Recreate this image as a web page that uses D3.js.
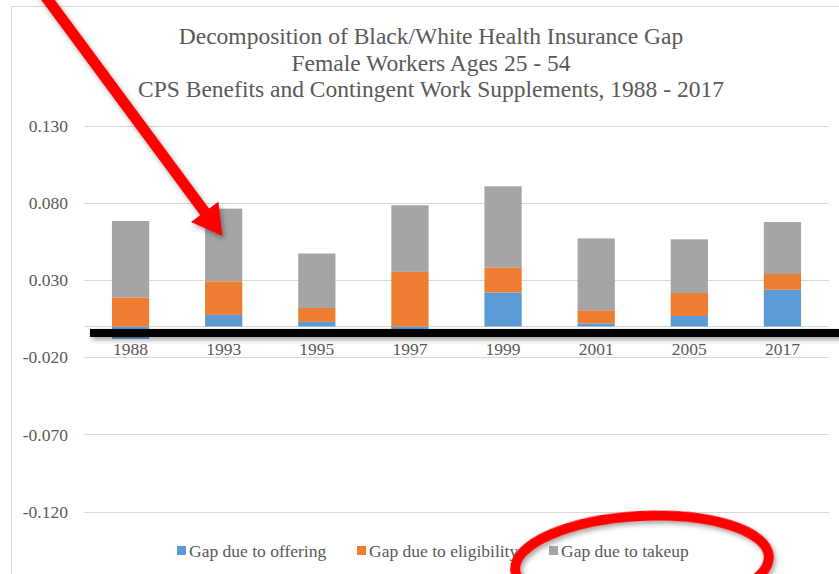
<!DOCTYPE html>
<html>
<head>
<meta charset="utf-8">
<script src="https://cdn.jsdelivr.net/npm/d3@7"></script>
<style>
  html, body { margin: 0; padding: 0; background: #fff; }
  svg { display: block; }
</style>
</head>
<body>
<svg id="chart" width="839" height="574"></svg>
<script>
// Survey years
const years = ["1988", "1993", "1995", "1997", "1999", "2001", "2005", "2017"];
// Components of the Black/White insurance gap
const offering    = [-0.008, 0.0075, 0.003, -0.002, 0.022, 0.002, 0.0068, 0.0238];
const eligibility = [0.0188, 0.0218, 0.009, 0.0354, 0.0163, 0.0085, 0.0149, 0.0102];
const takeup      = [0.0496, 0.0471, 0.0353, 0.0432, 0.0526, 0.0466, 0.0348, 0.0337];
const seriesNames = ["Gap due to offering", "Gap due to eligibility", "Gap due to takeup"];
const seriesColors = ["#5B9BD5", "#ED7D31", "#A5A5A5"];
const yTicks = [-0.12, -0.07, -0.02, 0.03, 0.08, 0.13];
const titleLines = [
  "Decomposition of Black/White Health Insurance Gap",
  "Female Workers Ages 25 - 54",
  "CPS Benefits and Contingent Work Supplements, 1988 - 2017"
];

const FONT = "'Liberation Serif', 'DejaVu Serif', serif";
const TEXT = "#595959";

const svg = d3.select("#chart");
const defs = svg.append("defs");
const shadow = defs.append("filter").attr("id", "shadow")
  .attr("filterUnits", "userSpaceOnUse")
  .attr("x", -50).attr("y", -50).attr("width", 950).attr("height", 700);
shadow.append("feDropShadow").attr("dx", 2).attr("dy", 3).attr("stdDeviation", 2.5)
  .attr("flood-color", "#000").attr("flood-opacity", 0.35);

// chart frame
svg.append("path").attr("d", "M11.5,600 V6.5 H845")
  .attr("fill", "none").attr("stroke", "#D9D9D9").attr("stroke-width", 1);

const x = d3.scaleBand().domain(years).range([84, 829]).paddingInner(0.6).paddingOuter(0.3);
const y = d3.scaleLinear().domain([-0.12, 0.13]).range([511.5, 126]);

// gridlines
svg.append("g").selectAll("line").data(yTicks).join("line")
  .attr("x1", 84).attr("x2", 829)
  .attr("y1", d => Math.round(y(d)) + 0.5).attr("y2", d => Math.round(y(d)) + 0.5)
  .attr("stroke", "#D9D9D9").attr("stroke-width", 1);
// zero line
svg.append("line").attr("x1", 84).attr("x2", 829)
  .attr("y1", Math.round(y(0)) + 0.5).attr("y2", Math.round(y(0)) + 0.5)
  .attr("stroke", "#D9D9D9");

// y tick labels
svg.append("g").selectAll("text").data(yTicks).join("text")
  .attr("x", 68).attr("y", d => y(d)).attr("dy", "0.35em")
  .attr("text-anchor", "end").attr("font-size", 17.5)
  .attr("font-family", FONT).attr("fill", TEXT)
  .text(d => d3.format(".3f")(d).replace("\u2212", "-"));

// stacked bars
const rows = years.map((yr, i) => ({ year: yr, o: offering[i], e: eligibility[i], t: takeup[i] }));
const stack = d3.stack().keys(["o", "e", "t"]).offset(d3.stackOffsetDiverging);
const layers = stack(rows);
svg.append("g").selectAll("g").data(layers).join("g")
  .attr("fill", (d, i) => seriesColors[i])
  .selectAll("rect").data(d => d).join("rect")
  .attr("x", d => x(d.data.year))
  .attr("width", x.bandwidth())
  .attr("y", d => y(Math.max(d[0], d[1])))
  .attr("height", d => Math.abs(y(d[0]) - y(d[1])));

// category labels
svg.append("g").selectAll("text").data(years).join("text")
  .attr("x", d => x(d) + x.bandwidth() / 2).attr("y", 349).attr("dy", "0.35em")
  .attr("text-anchor", "middle").attr("font-size", 17.5)
  .attr("font-family", FONT).attr("fill", TEXT)
  .text(d => d);

// title
svg.append("g").selectAll("text").data(titleLines).join("text")
  .attr("x", 431).attr("y", (d, i) => 36 + i * 26.5).attr("dy", "0.35em")
  .attr("text-anchor", "middle").attr("font-size", 23.5)
  .attr("font-family", FONT).attr("fill", TEXT)
  .text(d => d);

// legend
const legendX = [177, 357, 549];
const legend = svg.append("g").selectAll("g").data(seriesNames).join("g")
  .attr("transform", (d, i) => `translate(${legendX[i]},551)`);
legend.append("rect").attr("x", 0).attr("y", -5).attr("width", 9).attr("height", 9)
  .attr("fill", (d, i) => seriesColors[i]);
legend.append("text").attr("x", 12).attr("dy", "0.35em").attr("font-size", 17.5)
  .attr("font-family", FONT).attr("fill", TEXT)
  .text(d => d);

// heavy black rule along the axis
svg.append("rect").attr("x", 90).attr("width", 760)
  .attr("y", y(0) + 2.5).attr("height", 8)
  .attr("fill", "#000").attr("filter", "url(#shadow)");

// red arrow
const arrow = svg.append("g").attr("filter", "url(#shadow)");
const tip = [222.5, 236];
const start = [37, -15];
const dx = tip[0] - start[0], dy = tip[1] - start[1];
const len = Math.hypot(dx, dy);
const ux = dx / len, uy = dy / len, nx = -uy, ny = ux;
const headLen = 30, headHalf = 17;
const base = [tip[0] - headLen * ux, tip[1] - headLen * uy];
arrow.append("line")
  .attr("x1", start[0]).attr("y1", start[1])
  .attr("x2", base[0] + 2 * ux).attr("y2", base[1] + 2 * uy)
  .attr("stroke", "#FF0000").attr("stroke-width", 11);
arrow.append("path")
  .attr("d", `M${tip[0]},${tip[1]} L${base[0] + headHalf * nx},${base[1] + headHalf * ny} L${base[0] - headHalf * nx},${base[1] - headHalf * ny} Z`)
  .attr("fill", "#FF0000");

// red ellipse around the takeup legend entry
svg.append("ellipse")
  .attr("cx", 642).attr("cy", 563).attr("rx", 127).attr("ry", 47)
  .attr("transform", "rotate(-3 642 563)")
  .attr("fill", "none").attr("stroke", "#FF0000").attr("stroke-width", 10)
  .attr("filter", "url(#shadow)");
</script>
</body>
</html>
